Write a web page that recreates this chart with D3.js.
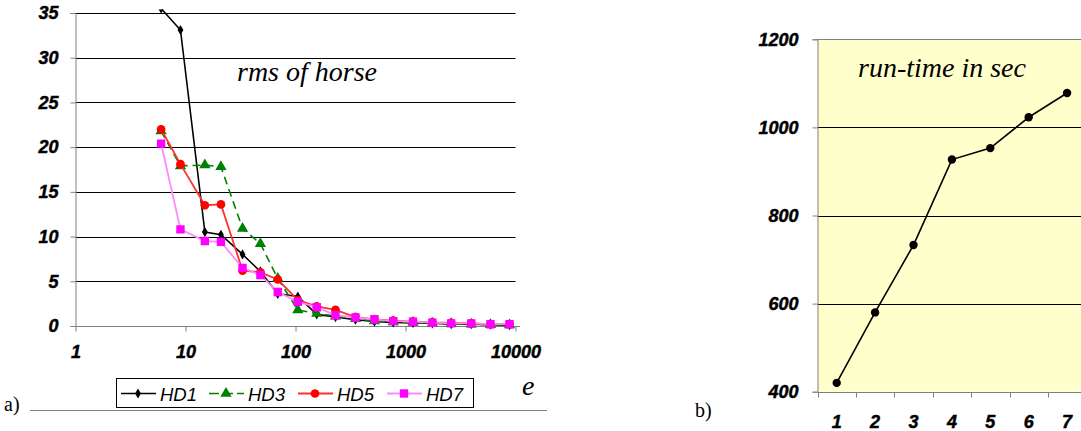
<!DOCTYPE html>
<html>
<head>
<meta charset="utf-8">
<script src="https://cdn.jsdelivr.net/npm/d3@7"></script>
<style>
  html, body { margin: 0; padding: 0; background: #fff; }
  svg { display: block; }
  .serif-it { font-family: "Liberation Serif", "Times New Roman", serif; font-style: italic; fill: #000; }
  .serif { font-family: "Liberation Serif", "Times New Roman", serif; fill: #000; }
  .legend-lbl { font-family: "Liberation Sans", Arial, sans-serif; font-style: italic; font-size: 18.5px; fill: #000; }
</style>
</head>
<body>
<svg id="chart" width="1081" height="431"></svg>
<script>
// ---- rms of horse (panel a) ----
const eValues = [6, 9, 15, 21, 33, 48, 69, 105, 156, 231, 351, 522, 774, 1170, 1755, 2601, 3960, 5922, 8820];
const hd1 = [35.5, 33.1, 10.5, 10.2, 8.0, 6.1, 3.6, 3.3, 1.3, 1.0, 0.7, 0.5, 0.4, 0.35, 0.3, 0.2, 0.2, 0.15, 0.1];
const hd3 = [21.8, 17.9, 18.0, 17.8, 10.9, 9.2, 5.3, 1.8, 1.4, 1.1, 0.8, 0.55, 0.45, 0.4, 0.3, 0.25, 0.2, 0.15, 0.1];
const hd5 = [22.0, 18.1, 13.5, 13.6, 6.2, 6.0, 5.2, 2.9, 2.2, 1.8, 1.0, 0.75, 0.6, 0.5, 0.4, 0.35, 0.3, 0.2, 0.2];
const hd7 = [20.4, 10.8, 9.5, 9.4, 6.5, 5.7, 3.8, 2.7, 2.1, 1.2, 0.95, 0.75, 0.55, 0.48, 0.37, 0.3, 0.3, 0.2, 0.2];
const seriesNames = ["HD1", "HD3", "HD5", "HD7"];
const rmsTicks = [0, 5, 10, 15, 20, 25, 30, 35];
const eTicks = [1, 10, 100, 1000, 10000];

// ---- run-time (panel b) ----
const runs = [1, 2, 3, 4, 5, 6, 7];
const runTimes = [420, 580, 733, 927, 953, 1023, 1078];
const timeTicks = [400, 600, 800, 1000, 1200];

const svg = d3.select("#chart");

// heavy bold italic look for the axis numbers
function styleTickText(sel) {
  sel.attr("font-size", null).attr("font-family", null)
    .attr("fill", "#000")
    .attr("stroke", "#000").attr("stroke-width", 0.45)
    .style("font-family", "'Liberation Sans', Arial, sans-serif")
    .style("font-weight", "bold")
    .style("font-style", "italic")
    .style("font-size", "18px");
}

// ================= Panel a =================
const xA = d3.scaleLog().domain([1, 10000]).range([75.5, 515.5]);
const yA = d3.scaleLinear().domain([0, 35]).range([326, 13]);

const gA = svg.append("g");

// horizontal gridlines
gA.append("g").selectAll("line").data(rmsTicks.filter(d => d > 0)).join("line")
  .attr("x1", 75.5).attr("x2", 515.5)
  .attr("y1", d => Math.round(yA(d)) + 0.5).attr("y2", d => Math.round(yA(d)) + 0.5)
  .attr("stroke", "#000").attr("stroke-width", 1);

// y axis
const yAxisA = d3.axisLeft(yA).tickValues(rmsTicks).tickSize(5).tickPadding(12).tickFormat(d3.format("d"));
const gy = gA.append("g").attr("transform", "translate(75.5,0)").call(yAxisA);
gy.select(".domain").attr("stroke", "#808080");
gy.selectAll(".tick line").attr("stroke", "#808080");
styleTickText(gy.selectAll(".tick text"));

// x axis (log)
const xAxisA = d3.axisBottom(xA).tickValues(eTicks).tickSize(5).tickPadding(14).tickFormat(d3.format("d"));
const gx = gA.append("g").attr("transform", "translate(0,326.5)").call(xAxisA);
gx.select(".domain").remove();
gx.append("line").attr("x1", 75.5).attr("x2", 520).attr("stroke", "#808080");
gx.selectAll(".tick line").attr("stroke", "#808080");
styleTickText(gx.selectAll(".tick text"));

// clip region for the series
svg.append("defs").append("clipPath").attr("id", "clipA")
  .append("rect").attr("x", 70).attr("y", 9.5).attr("width", 460).attr("height", 330);

const lineA = (vals) => d3.line().x((d, i) => xA(eValues[i])).y(d => yA(d))(vals);
const plotA = gA.append("g").attr("clip-path", "url(#clipA)");

const styles = [
  { data: hd1, stroke: "#000000", width: 1.6, dash: null, marker: d3.symbolDiamond, msize: 30, fill: "#000000" },
  { data: hd3, stroke: "#008000", width: 1.6, dash: "8,5", marker: d3.symbolTriangle, msize: 55, fill: "#008000" },
  { data: hd5, stroke: "#ff3030", width: 1.8, dash: null, marker: d3.symbolCircle, msize: 60, fill: "#ff0000" },
  { data: hd7, stroke: "#ff88ff", width: 1.8, dash: null, marker: d3.symbolSquare, msize: 70, fill: "#ff00ff" }
];

styles.forEach(s => {
  plotA.append("path")
    .attr("d", lineA(s.data))
    .attr("fill", "none")
    .attr("stroke", s.stroke)
    .attr("stroke-width", s.width)
    .attr("stroke-dasharray", s.dash);
  plotA.append("g").selectAll("path").data(s.data).join("path")
    .attr("transform", (d, i) => `translate(${xA(eValues[i])},${yA(d)})`)
    .attr("d", d3.symbol().type(s.marker).size(s.msize))
    .attr("fill", s.fill);
});

// title
gA.append("text").attr("class", "serif-it").attr("x", 237).attr("y", 81)
  .attr("font-size", 28).text("rms of horse");

// legend
const leg = gA.append("g");
leg.append("rect").attr("x", 116.5).attr("y", 378.5).attr("width", 357).attr("height", 29)
  .attr("fill", "#fff").attr("stroke", "#000").attr("stroke-width", 1);
const legX = [121, 209, 298, 387];
styles.forEach((s, i) => {
  const x0 = legX[i];
  leg.append("line").attr("x1", x0).attr("x2", x0 + 35).attr("y1", 393.5).attr("y2", 393.5)
    .attr("stroke", s.stroke).attr("stroke-width", s.width).attr("stroke-dasharray", s.dash ? "10,4" : null);
  leg.append("path").attr("transform", `translate(${x0 + 17},393.5)`)
    .attr("d", d3.symbol().type(s.marker).size(s.msize)).attr("fill", s.fill);
  leg.append("text").attr("class", "legend-lbl").attr("x", x0 + 39).attr("y", 400.5).text(seriesNames[i]);
});

// axis name and panel label
gA.append("text").attr("class", "serif-it").attr("x", 522).attr("y", 395).attr("font-size", 28).text("e");
gA.append("text").attr("class", "serif").attr("x", 4).attr("y", 411).attr("font-size", 20).text("a)");
gA.append("line").attr("x1", 30).attr("x2", 547).attr("y1", 410.5).attr("y2", 410.5)
  .attr("stroke", "#808080").attr("stroke-width", 1);

// ================= Panel b =================
const xB = d3.scaleBand().domain(runs).range([817.5, 817.5 + 7 * 38.4]);
const yB = d3.scaleLinear().domain([400, 1200]).range([391.7, 39.3]);

const gB = svg.append("g");

// plot background
gB.append("rect").attr("x", 817.5).attr("y", yB(1200)).attr("width", 1081 - 817.5)
  .attr("height", yB(400) - yB(1200)).attr("fill", "#ffffcc");
gB.append("line").attr("x1", 817.5).attr("x2", 1081).attr("y1", 39.5).attr("y2", 39.5)
  .attr("stroke", "#808080");

// gridlines
gB.append("g").selectAll("line").data([600, 800, 1000]).join("line")
  .attr("x1", 817.5).attr("x2", 1081)
  .attr("y1", d => Math.round(yB(d)) + 0.5).attr("y2", d => Math.round(yB(d)) + 0.5)
  .attr("stroke", "#000");

// y axis
const yAxisB = d3.axisLeft(yB).tickValues(timeTicks).tickSize(5).tickPadding(14).tickFormat(d3.format("d"));
const gyB = gB.append("g").attr("transform", "translate(817.5,0)").call(yAxisB);
gyB.select(".domain").attr("stroke", "#808080");
gyB.selectAll(".tick line").attr("stroke", "#808080");
styleTickText(gyB.selectAll(".tick text"));

// x axis: ticks on category boundaries, labels centred on categories
const gxB = gB.append("g").attr("transform", `translate(0,${Math.round(yB(400)) + 0.5})`);
gxB.append("line").attr("x1", 817.5).attr("x2", 1081).attr("stroke", "#808080");
gxB.selectAll("line.tk").data(runs).join("line").attr("class", "tk")
  .attr("x1", d => Math.round(xB(d)) + 0.5).attr("x2", d => Math.round(xB(d)) + 0.5)
  .attr("y1", 0).attr("y2", 5).attr("stroke", "#808080");
const xLbls = gxB.selectAll("text").data(runs).join("text")
  .attr("x", d => xB(d) + xB.bandwidth() / 2).attr("y", 35)
  .attr("text-anchor", "middle").text(d => d);
styleTickText(xLbls);

// run-time line
gB.append("path")
  .attr("d", d3.line().x((d, i) => xB(runs[i]) + xB.bandwidth() / 2).y(d => yB(d))(runTimes))
  .attr("fill", "none").attr("stroke", "#000").attr("stroke-width", 1.6);
gB.append("g").selectAll("circle").data(runTimes).join("circle")
  .attr("cx", (d, i) => xB(runs[i]) + xB.bandwidth() / 2).attr("cy", d => yB(d))
  .attr("r", 4.2).attr("fill", "#000");

gB.append("text").attr("class", "serif-it").attr("x", 858).attr("y", 77)
  .attr("font-size", 28).text("run-time in sec");
gB.append("text").attr("class", "serif").attr("x", 695).attr("y", 417).attr("font-size", 20).text("b)");
</script>
</body>
</html>
